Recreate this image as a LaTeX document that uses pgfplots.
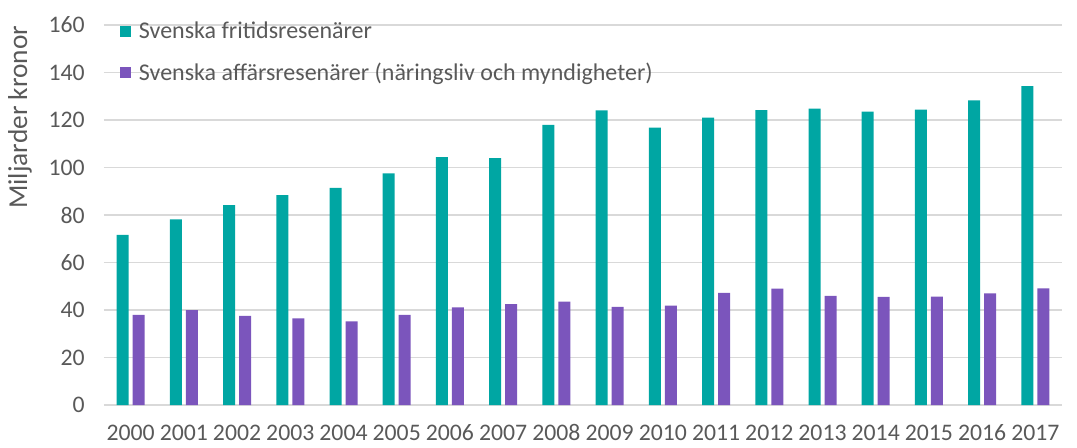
\documentclass[border=0pt]{standalone}
\usepackage{fontspec}
\setmainfont{Carlito}
\usepackage{pgfplots}
\pgfplotsset{compat=1.18}
\definecolor{teal1}{RGB}{0,166,163}
\definecolor{purp1}{RGB}{123,85,188}
\definecolor{txt}{RGB}{89,89,89}
\definecolor{grd}{RGB}{217,217,217}
\begin{document}
\begin{tikzpicture}
\useasboundingbox (-78pt,-31.5pt) rectangle (729.75pt,303.75pt);
\begin{axis}[
  at={(0,0)}, anchor=south west,
  scale only axis, width=718.5pt, height=285pt,
  ybar=3pt, bar width=9pt,
  xmin=-0.5, xmax=17.5, ymin=0, ymax=160,
  xtick={0,...,17},
  xticklabels={2000,2001,2002,2003,2004,2005,2006,2007,2008,2009,2010,2011,2012,2013,2014,2015,2016,2017},
  ytick={0,20,...,160},
  /pgf/number format/assume math mode=true,
  major tick length=0pt,
  axis line style={draw=none},
  ymajorgrids, grid style={grd, line width=1.1pt},
  tick label style={font=\fontsize{17.8}{21}\selectfont, text=txt},
  yticklabel style={xshift=-11pt},
  xticklabel style={anchor=north, inner sep=0pt, text height=12pt, text depth=0pt, yshift=-14.5pt},
  ylabel={Miljarder kronor},
  ylabel style={font=\fontsize{20.5}{24}\selectfont, text=txt, at={(axis description cs:-0.0877,0.757)}, rotate=0, anchor=center},
  legend style={at={(axis description cs:0.0167,1.015)}, anchor=north west, draw=none, fill=none,
    font=\fontsize{18}{21}\selectfont, text=txt, inner sep=0pt, row sep=12.5pt,
    legend cell align=left, /tikz/every odd column/.append style={column sep=4pt}},
  legend image code/.code={\fill[#1] (0pt,-4pt) rectangle (8pt,4pt);},
]
\addplot[fill=teal1, draw=none] coordinates {
(0,71.6) (1,78.2) (2,84.2) (3,88.4) (4,91.4) (5,97.5) (6,104.4) (7,104.0) (8,117.9)
(9,124.1) (10,116.8) (11,121.0) (12,124.2) (13,124.8) (14,123.5) (15,124.4) (16,128.3) (17,134.3)};
\addplot[fill=purp1, draw=none] coordinates {
(0,37.9) (1,39.9) (2,37.5) (3,36.5) (4,35.2) (5,37.9) (6,41.1) (7,42.5) (8,43.5)
(9,41.3) (10,41.8) (11,47.2) (12,49.0) (13,45.9) (14,45.5) (15,45.6) (16,47.0) (17,49.1)};
\legend{Svenska fritidsresenärer, Svenska affärsresenärer (näringsliv och myndigheter)}
\end{axis}
\end{tikzpicture}
\end{document}
